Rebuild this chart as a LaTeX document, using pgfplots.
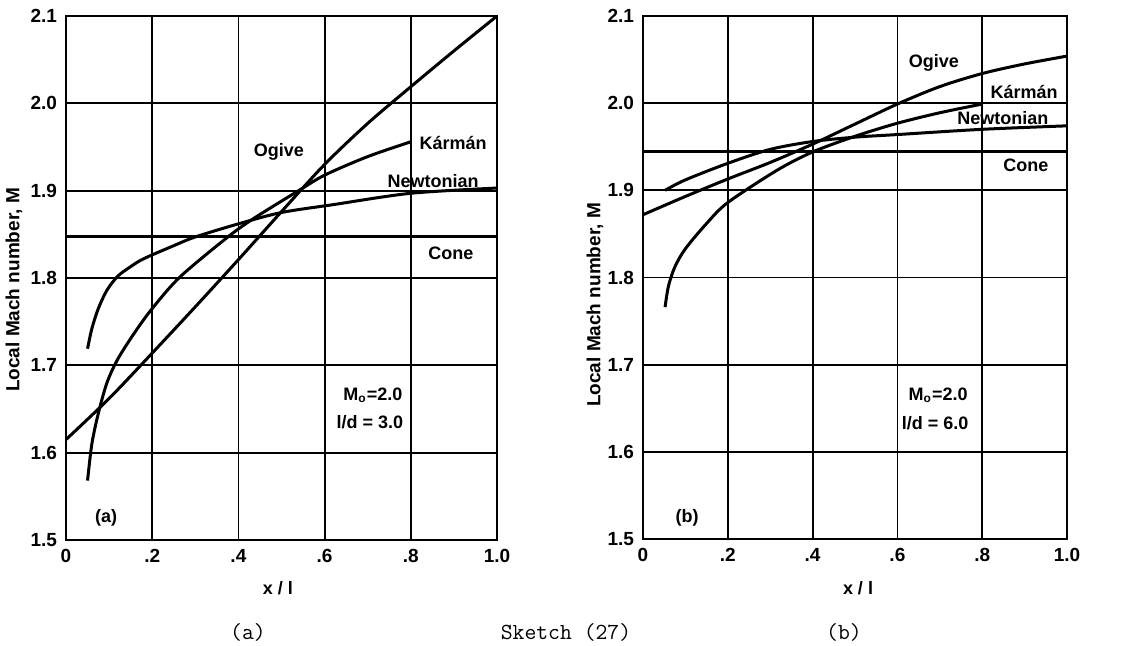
\documentclass[border=0pt]{standalone}
\usepackage{fontspec}
\setmainfont{Liberation Sans}
\usepackage{pgfplots}
\pgfplotsset{compat=1.18}
\pgfplotsset{
  machstyle/.style={
    scale only axis,
    anchor=south west,
    xmin=0, xmax=1, ymin=1.5, ymax=2.1,
    xtick={0,0.2,0.4,0.6,0.8,1.0},
    xticklabels={0,.2,.4,.6,.8,1.0},
    ytick={1.5,1.6,1.7,1.8,1.9,2.0,2.1},
    yticklabels={1.5,1.6,1.7,1.8,1.9,2.0,2.1},
    major tick length=0pt,
    grid=major,
    major grid style={black, line width=0.9pt},
    axis line style={black, line width=1.3pt},
    tick label style={font=\bfseries\fontsize{9.5}{10}\selectfont},
    xticklabel style={yshift=-1pt},
    yticklabel style={xshift=-1pt},
    every axis plot/.append style={black, line width=1.5pt, no markers},
  },
}
\tikzset{lbl/.style={font=\bfseries\fontsize{9}{10}\selectfont, inner sep=0pt}}
\begin{document}
\begin{tikzpicture}
\path[use as bounding box] (0,0) rectangle (564.5pt,323pt);
% ---------------- panel (a)
\begin{axis}[machstyle, at={(33pt,53pt)}, width=215.5pt, height=262pt]
\addplot[smooth] coordinates {(0,1.615) (0.1,1.662) (0.2,1.714) (0.3,1.767) (0.4,1.821) (0.5,1.876) (0.6,1.930) (0.7,1.977) (0.8,2.019) (0.9,2.060) (1.0,2.100)};
\addplot[smooth] coordinates {(0.05,1.568) (0.06,1.610) (0.075,1.645) (0.095,1.680) (0.12,1.707) (0.16,1.738) (0.2,1.765) (0.264,1.801) (0.373,1.846) (0.435,1.868) (0.543,1.901) (0.601,1.918) (0.7,1.939) (0.8,1.956)};
\addplot[smooth] coordinates {(0.05,1.719) (0.06,1.742) (0.075,1.765) (0.095,1.786) (0.12,1.802) (0.15,1.813) (0.18,1.822) (0.25,1.837) (0.3,1.847) (0.4,1.862) (0.5,1.875) (0.62,1.884) (0.8,1.897) (1.0,1.903)};
\addplot coordinates {(0,1.847) (1,1.847)};
\node[lbl] at (axis cs:0.494,1.944) {Ogive};
\node[lbl] at (axis cs:0.898,1.955) {Kármán};
\node[lbl] at (axis cs:0.852,1.911) {Newtonian};
\node[lbl] at (axis cs:0.893,1.828) {Cone};
\node[lbl] at (axis cs:0.712,1.666) {M\textsubscript{o}=2.0};
\node[lbl] at (axis cs:0.705,1.635) {l/d = 3.0};
\node[lbl] at (axis cs:0.093,1.525) {(a)};
\end{axis}
% ---------------- panel (b)
\begin{axis}[machstyle, at={(321.5pt,53.5pt)}, width=212pt, height=261.5pt]
\addplot[smooth] coordinates {(0,1.872) (0.1,1.893) (0.2,1.913) (0.3,1.932) (0.4,1.953) (0.5,1.976) (0.6,1.999) (0.7,2.019) (0.8,2.034) (0.9,2.045) (1.0,2.054)};
\addplot[smooth] coordinates {(0.052,1.766) (0.06,1.790) (0.075,1.812) (0.1,1.833) (0.15,1.862) (0.2,1.886) (0.316,1.923) (0.4,1.944) (0.5,1.962) (0.6,1.977) (0.7,1.989) (0.8,1.999)};
\addplot[smooth] coordinates {(0.052,1.900) (0.1,1.912) (0.2,1.931) (0.3,1.947) (0.4,1.956) (0.5,1.961) (0.6,1.964) (0.8,1.970) (1.0,1.974)};
\addplot coordinates {(0,1.945) (1,1.945)};
\node[lbl] at (axis cs:0.686,2.046) {Ogive};
\node[lbl] at (axis cs:0.899,2.013) {Kármán};
\node[lbl] at (axis cs:0.849,1.983) {Newtonian};
\node[lbl] at (axis cs:0.903,1.929) {Cone};
\node[lbl] at (axis cs:0.696,1.665) {M\textsubscript{o}=2.0};
\node[lbl] at (axis cs:0.689,1.633) {l/d = 6.0};
\node[lbl] at (axis cs:0.104,1.524) {(b)};
\end{axis}
% ---------------- outer labels
\node[font=\bfseries\fontsize{9.5}{10}\selectfont, rotate=90] at (7pt,178pt) {Local Mach number, M};
\node[font=\bfseries\fontsize{9.5}{10}\selectfont, rotate=90] at (297.5pt,170.5pt) {Local Mach number, M};
\node[font=\bfseries\fontsize{9}{10}\selectfont] at (139pt,29pt) {x / l};
\node[font=\bfseries\fontsize{9}{10}\selectfont] at (429pt,29pt) {x / l};
\node[font=\ttfamily\fontsize{11.5}{12}\selectfont] at (124pt,7pt) {(a)};
\node[font=\ttfamily\fontsize{11.5}{12}\selectfont] at (283pt,7pt) {Sketch (27)};
\node[font=\ttfamily\fontsize{11.5}{12}\selectfont] at (422pt,7pt) {(b)};
\end{tikzpicture}
\end{document}
